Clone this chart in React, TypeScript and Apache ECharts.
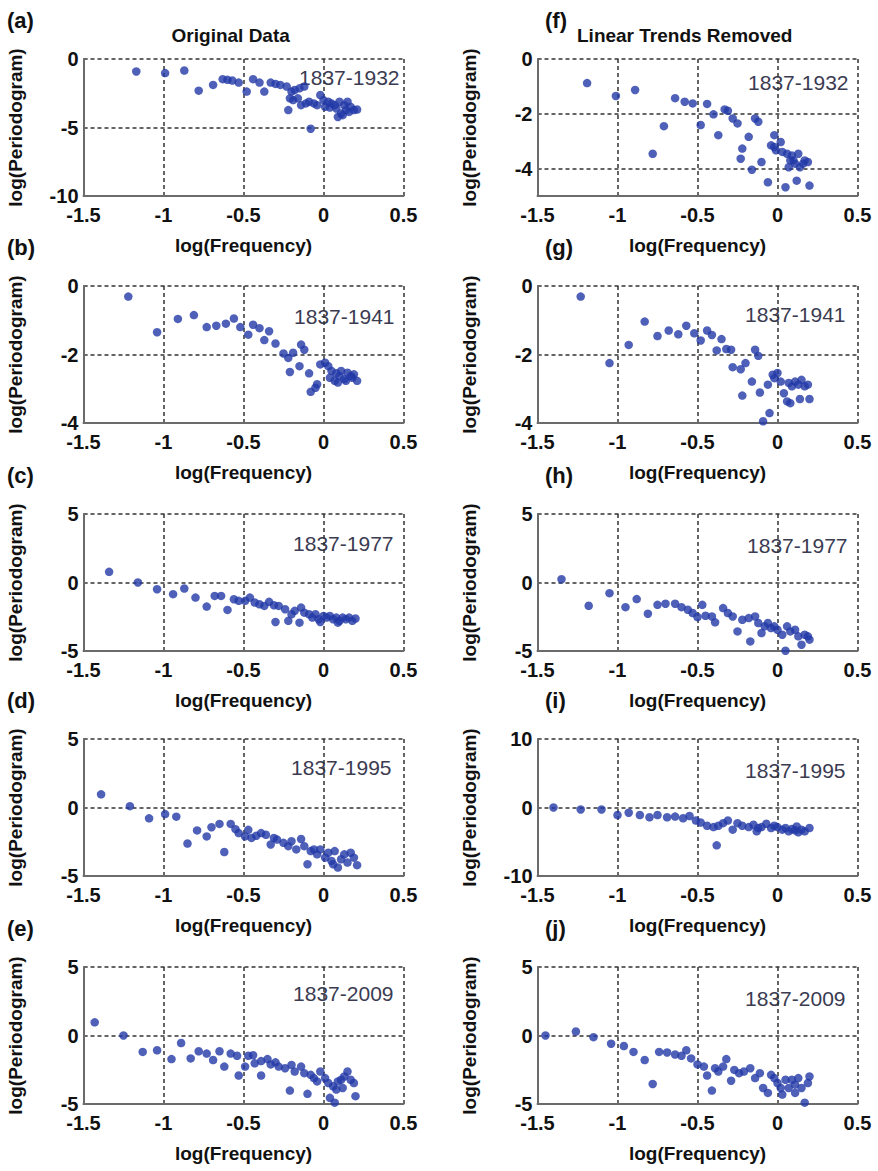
import React, { useEffect, useRef } from "react";
import * as echarts from "echarts";

type Pt = [number, number];

const columnTitles = ["Original Data", "Linear Trends Removed"];
const panelLetters = ["(a)", "(b)", "(c)", "(d)", "(e)", "(f)", "(g)", "(h)", "(i)", "(j)"];
const yearLabels = ["1837-1932", "1837-1941", "1837-1977", "1837-1995", "1837-2009"];
const xTickValues = [-1.5, -1, -0.5, 0, 0.5];
const xAxisTitle = "log(Frequency)";
const yAxisTitle = "log(Periodogram)";

// y-axis ranges per panel (a..j)
const yMins = [-10, -4, -5, -5, -5, -5, -4, -5, -10, -5];
const yMaxs = [0, 0, 5, 5, 5, 0, 0, 5, 10, 5];
const yTicks = [
  [-10, -5, 0],
  [-4, -2, 0],
  [-5, 0, 5],
  [-5, 0, 5],
  [-5, 0, 5],
  [-4, -2, 0],
  [-4, -2, 0],
  [-5, 0, 5],
  [-10, 0, 10],
  [-5, 0, 5],
];

const dataA: Pt[] = [
  [-1.17, -0.91], [-0.99, -1.03], [-0.87, -0.84], [-0.78, -2.31], [-0.69, -1.89], [-0.63, -1.47],
  [-0.6, -1.52], [-0.57, -1.57], [-0.53, -1.72], [-0.48, -2.38], [-0.44, -1.47], [-0.4, -1.72],
  [-0.37, -2.38], [-0.33, -1.72], [-0.3, -1.82], [-0.27, -1.89], [-0.23, -2.01], [-0.2, -2.38],
  [-0.18, -2.26], [-0.15, -2.14], [-0.12, -2.01], [-0.21, -2.87], [-0.22, -3.73], [-0.19, -3.0],
  [-0.16, -2.87], [-0.14, -3.37], [-0.11, -3.24], [-0.09, -3.12], [-0.08, -5.09], [-0.06, -3.24],
  [-0.04, -3.37], [-0.02, -2.63], [0.0, -3.0], [0.01, -3.49], [0.03, -3.12], [0.04, -3.54],
  [0.05, -3.24], [0.07, -3.37], [0.08, -3.61], [0.1, -3.12], [0.11, -3.98], [0.13, -3.37],
  [0.14, -3.73], [0.15, -3.12], [0.17, -3.49], [0.19, -3.73], [0.21, -3.69], [0.16, -3.86],
  [0.12, -4.1], [0.09, -4.23],
];

const dataB: Pt[] = [
  [-1.22, -0.31], [-1.04, -1.35], [-0.91, -0.96], [-0.81, -0.85], [-0.73, -1.2], [-0.67, -1.16],
  [-0.61, -1.1], [-0.56, -0.95], [-0.52, -1.2], [-0.47, -1.42], [-0.44, -1.13], [-0.4, -1.23],
  [-0.37, -1.58], [-0.34, -1.32], [-0.3, -1.68], [-0.25, -1.97], [-0.22, -2.1], [-0.21, -2.51],
  [-0.19, -1.95], [-0.15, -2.34], [-0.14, -1.71], [-0.12, -1.86], [-0.09, -2.55], [-0.08, -3.09],
  [-0.05, -2.97], [-0.04, -2.87], [-0.02, -2.29], [0.01, -2.24], [0.03, -2.34], [0.05, -2.48],
  [0.07, -2.77], [0.08, -2.55], [0.1, -2.63], [0.11, -2.48], [0.13, -2.72], [0.15, -2.53],
  [0.17, -2.63], [0.19, -2.58], [0.21, -2.77], [0.04, -2.68], [0.09, -2.82], [0.14, -2.77],
  [0.18, -2.68],
];

const dataC: Pt[] = [
  [-1.34, 0.78], [-1.16, 0.0], [-1.04, -0.49], [-0.94, -0.85], [-0.87, -0.44], [-0.8, -1.1],
  [-0.73, -1.76], [-0.68, -0.98], [-0.64, -0.98], [-0.6, -2.0], [-0.56, -1.22], [-0.53, -1.34],
  [-0.49, -1.34], [-0.46, -1.1], [-0.43, -1.46], [-0.4, -1.59], [-0.37, -1.71], [-0.34, -1.41],
  [-0.31, -1.66], [-0.3, -2.88], [-0.28, -1.71], [-0.24, -1.95], [-0.22, -2.8], [-0.2, -2.32],
  [-0.18, -2.07], [-0.15, -2.93], [-0.14, -1.83], [-0.12, -2.2], [-0.09, -2.32], [-0.07, -2.56],
  [-0.05, -2.32], [-0.03, -2.68], [0.0, -2.44], [0.02, -2.56], [0.04, -2.44], [0.06, -2.68],
  [0.08, -2.56], [0.1, -2.8], [0.12, -2.56], [0.14, -2.68], [0.16, -2.56], [0.18, -2.8],
  [0.2, -2.63], [-0.02, -2.88], [0.09, -2.93],
];

const dataD: Pt[] = [
  [-1.39, 0.96], [-1.21, 0.1], [-1.09, -0.79], [-0.99, -0.48], [-0.92, -0.67], [-0.85, -2.63],
  [-0.79, -1.67], [-0.73, -2.11], [-0.7, -1.44], [-0.65, -1.2], [-0.62, -3.25], [-0.58, -1.2],
  [-0.55, -1.58], [-0.53, -1.87], [-0.49, -2.11], [-0.47, -1.63], [-0.45, -2.22], [-0.42, -2.06],
  [-0.39, -1.87], [-0.36, -1.99], [-0.33, -2.7], [-0.31, -2.22], [-0.29, -2.34], [-0.25, -2.58],
  [-0.22, -2.82], [-0.2, -2.46], [-0.17, -3.06], [-0.14, -2.3], [-0.12, -2.82], [-0.1, -4.14],
  [-0.08, -3.18], [-0.06, -3.06], [-0.04, -3.42], [-0.02, -3.06], [0.01, -3.66], [0.03, -3.3],
  [0.05, -3.9], [0.07, -3.18], [0.09, -4.38], [0.11, -3.78], [0.13, -3.42], [0.15, -4.02],
  [0.17, -3.3], [0.19, -3.66], [0.21, -4.21], [0.06, -4.14],
];

const dataE: Pt[] = [
  [-1.43, 0.96], [-1.25, 0.0], [-1.13, -1.2], [-1.04, -1.08], [-0.95, -1.72], [-0.89, -0.55],
  [-0.83, -1.67], [-0.78, -1.15], [-0.73, -1.32], [-0.69, -1.79], [-0.65, -1.15], [-0.62, -2.27],
  [-0.58, -1.32], [-0.54, -1.48], [-0.53, -2.92], [-0.49, -2.27], [-0.47, -1.48], [-0.44, -1.44],
  [-0.43, -2.03], [-0.39, -2.92], [-0.39, -1.87], [-0.35, -1.72], [-0.33, -2.11], [-0.3, -1.96],
  [-0.28, -2.27], [-0.24, -2.39], [-0.21, -4.02], [-0.2, -2.15], [-0.18, -2.63], [-0.14, -2.27],
  [-0.12, -2.75], [-0.1, -4.26], [-0.08, -2.87], [-0.06, -3.11], [-0.04, -3.35], [-0.02, -2.63],
  [0.01, -3.11], [0.03, -3.47], [0.04, -4.55], [0.06, -3.71], [0.07, -4.9], [0.09, -3.35],
  [0.11, -3.23], [0.13, -2.99], [0.15, -2.63], [0.17, -3.23], [0.19, -3.47], [0.2, -4.43],
  [0.12, -3.83], [0.08, -3.95],
];

const dataF: Pt[] = [
  [-1.19, -0.88], [-1.01, -1.35], [-0.89, -1.13], [-0.78, -3.46], [-0.71, -2.45], [-0.64, -1.43],
  [-0.58, -1.56], [-0.53, -1.62], [-0.48, -2.41], [-0.44, -1.64], [-0.4, -2.02], [-0.37, -2.78],
  [-0.33, -1.84], [-0.31, -1.89], [-0.28, -2.17], [-0.25, -2.35], [-0.22, -3.27], [-0.23, -3.64],
  [-0.18, -2.84], [-0.16, -4.04], [-0.14, -2.17], [-0.12, -2.29], [-0.1, -3.76], [-0.06, -4.5],
  [-0.04, -3.15], [-0.02, -2.78], [-0.01, -3.33], [0.02, -3.03], [0.03, -3.39], [0.05, -4.68],
  [0.06, -3.46], [0.07, -3.95], [0.09, -3.52], [0.1, -3.7], [0.12, -4.44], [0.13, -3.46],
  [0.14, -3.95], [0.16, -3.82], [0.17, -3.7], [0.19, -3.76], [0.2, -4.62], [0.11, -3.82],
  [0.08, -3.7], [-0.02, -3.21],
];

const dataG: Pt[] = [
  [-1.23, -0.31], [-1.05, -2.25], [-0.93, -1.72], [-0.83, -1.04], [-0.75, -1.46], [-0.68, -1.3],
  [-0.62, -1.41], [-0.57, -1.16], [-0.52, -1.38], [-0.48, -1.59], [-0.44, -1.3], [-0.41, -1.43],
  [-0.38, -1.88], [-0.35, -1.55], [-0.32, -1.84], [-0.29, -1.86], [-0.28, -2.37], [-0.23, -2.43],
  [-0.22, -3.2], [-0.2, -2.25], [-0.16, -2.79], [-0.14, -1.86], [-0.12, -2.04], [-0.11, -3.11],
  [-0.09, -3.95], [-0.06, -2.88], [-0.05, -3.71], [-0.03, -2.59], [-0.02, -2.69], [0.0, -2.54],
  [0.02, -2.79], [0.04, -3.13], [0.06, -3.37], [0.07, -2.83], [0.09, -2.93], [0.11, -2.79],
  [0.13, -2.88], [0.15, -2.74], [0.17, -2.93], [0.19, -2.88], [0.2, -3.3], [0.14, -3.3],
  [0.08, -3.42],
];

const dataH: Pt[] = [
  [-1.35, 0.24], [-1.18, -1.7], [-1.05, -0.78], [-0.95, -1.8], [-0.88, -1.21], [-0.81, -2.28],
  [-0.75, -1.63], [-0.7, -1.55], [-0.64, -1.55], [-0.6, -1.8], [-0.56, -1.99], [-0.53, -2.23],
  [-0.5, -2.52], [-0.47, -1.63], [-0.45, -2.43], [-0.41, -2.48], [-0.39, -2.91], [-0.34, -1.87],
  [-0.31, -2.23], [-0.28, -2.48], [-0.25, -3.57], [-0.22, -2.72], [-0.17, -4.3], [-0.18, -2.6],
  [-0.14, -2.48], [-0.12, -2.96], [-0.1, -3.69], [-0.08, -3.2], [-0.06, -2.96], [-0.04, -3.33],
  [-0.02, -3.2], [0.0, -3.45], [0.03, -3.81], [0.05, -4.98], [0.06, -3.2], [0.08, -3.57],
  [0.11, -3.45], [0.13, -3.93], [0.15, -4.54], [0.17, -3.81], [0.19, -3.93], [0.2, -4.17],
];

const dataI: Pt[] = [
  [-1.4, 0.0], [-1.23, -0.29], [-1.1, -0.29], [-1.0, -1.1], [-0.93, -0.76], [-0.86, -1.1],
  [-0.8, -1.43], [-0.75, -1.1], [-0.69, -1.43], [-0.64, -1.33], [-0.59, -1.57], [-0.55, -1.24],
  [-0.51, -1.9], [-0.48, -2.19], [-0.44, -2.67], [-0.4, -2.86], [-0.37, -2.67], [-0.38, -5.52],
  [-0.34, -2.29], [-0.31, -1.9], [-0.28, -3.24], [-0.25, -2.29], [-0.22, -2.67], [-0.18, -2.86],
  [-0.15, -2.52], [-0.13, -3.48], [-0.1, -2.86], [-0.07, -2.38], [-0.04, -3.0], [-0.02, -2.67],
  [0.0, -2.86], [0.03, -3.24], [0.05, -3.0], [0.07, -3.48], [0.09, -3.14], [0.11, -3.33],
  [0.13, -3.62], [0.15, -3.24], [0.17, -3.48], [0.2, -3.0], [-0.12, -3.0], [0.12, -2.76],
];

const dataJ: Pt[] = [
  [-1.45, 0.0], [-1.26, 0.29], [-1.15, -0.12], [-1.04, -0.6], [-0.96, -0.77], [-0.9, -1.2],
  [-0.83, -1.79], [-0.78, -3.54], [-0.74, -1.2], [-0.69, -1.24], [-0.64, -1.39], [-0.6, -1.48],
  [-0.57, -1.08], [-0.54, -1.67], [-0.5, -2.11], [-0.46, -2.27], [-0.44, -2.92], [-0.41, -4.02],
  [-0.39, -2.39], [-0.37, -2.63], [-0.32, -1.72], [-0.34, -2.27], [-0.29, -3.3], [-0.27, -2.51],
  [-0.24, -2.75], [-0.21, -2.63], [-0.17, -2.39], [-0.14, -3.11], [-0.11, -2.75], [-0.09, -3.83],
  [-0.06, -4.19], [-0.04, -2.87], [-0.02, -3.11], [0.0, -3.47], [0.03, -4.31], [0.05, -3.23],
  [0.07, -3.83], [0.09, -3.23], [0.11, -3.59], [0.13, -3.11], [0.15, -3.83], [0.17, -4.9],
  [0.19, -3.47], [0.2, -2.99], [0.02, -3.83], [0.11, -4.19],
];

const panelData = [dataA, dataB, dataC, dataD, dataE, dataF, dataG, dataH, dataI, dataJ];

// layout (pixels)
const COL_LEFT = [83.5, 537.5];
const ROW_TOP = [59, 286, 514, 739, 967];
const PLOT_W = 320;
const PLOT_H = 137;
const YEAR_DY = [18, 30, 29, 28, 26, 23, 28, 31, 31, 31];
const YEAR_DX = [4, 9, 10, 12, 10, 9, 12, 10, 12, 12];

const FONT = "'Liberation Sans', Arial, Helvetica, sans-serif";
const DOT = "#2238a6";
const INK = "#111111";
const AXIS_GRAY = "#6b6b6b";
const GRID_INK = "#333333";

function fmt(v: number): string {
  return String(Math.round(v * 100) / 100);
}

export default function App() {
  const ref = useRef<HTMLDivElement | null>(null);

  useEffect(() => {
    document.body.style.margin = "0";
    if (!ref.current) return;
    const chart = echarts.init(ref.current, undefined, { renderer: "svg" });

    const idx = panelData.map((_, i) => i);
    const col = (i: number) => (i < 5 ? 0 : 1);
    const row = (i: number) => i % 5;

    const grids = idx.map((i) => ({
      left: COL_LEFT[col(i)],
      top: ROW_TOP[row(i)],
      width: PLOT_W,
      height: PLOT_H,
      containLabel: false,
    }));

    const splitStyle = { show: true, lineStyle: { color: GRID_INK, type: [4, 3], width: 1.5 } };

    const xAxes = idx.map((i) => ({
      type: "value",
      gridIndex: i,
      min: xTickValues[0],
      max: xTickValues[xTickValues.length - 1],
      interval: 0.5,
      name: xAxisTitle,
      nameLocation: "middle",
      nameGap: 40,
      nameTextStyle: { fontSize: 19, fontWeight: "bold", fontFamily: FONT, color: INK },
      axisLine: { show: true, onZero: false, lineStyle: { color: AXIS_GRAY, width: 2 } },
      axisTick: { show: true, inside: true, length: 4, lineStyle: { color: AXIS_GRAY, width: 1.5 } },
      axisLabel: { margin: 9, fontSize: 20, fontWeight: "bold", color: INK, fontFamily: FONT, formatter: fmt },
      splitLine: splitStyle,
    }));

    const yAxes = idx.map((i) => {
      const ticks = yTicks[i];
      const step = ticks[1] - ticks[0];
      const regular = ticks[0] === yMins[i] && ticks[ticks.length - 1] === yMaxs[i];
      const base: any = {
        type: "value",
        gridIndex: i,
        min: yMins[i],
        max: yMaxs[i],
        name: yAxisTitle,
        nameLocation: "middle",
        nameGap: 59,
        nameRotate: 90,
        nameTextStyle: { fontSize: 19, fontWeight: "bold", fontFamily: FONT, color: INK },
        axisLine: { show: true, onZero: false, lineStyle: { color: AXIS_GRAY, width: 2 } },
        axisTick: { show: true, inside: true, length: 4, lineStyle: { color: AXIS_GRAY, width: 1.5 } },
        axisLabel: { margin: 5, fontSize: 20, fontWeight: "bold", color: INK, fontFamily: FONT, formatter: fmt },
        splitLine: splitStyle,
      };
      if (regular) {
        base.interval = step;
      } else {
        base.axisLabel.customValues = ticks;
        base.axisTick.customValues = ticks;
      }
      return base;
    });

    const series = idx.map((i) => ({
      type: "scatter",
      xAxisIndex: i,
      yAxisIndex: i,
      data: panelData[i],
      symbol: "circle",
      symbolSize: 8.5,
      itemStyle: { color: DOT },
      silent: true,
      clip: false,
    }));

    const graphics: any[] = [];
    columnTitles.forEach((t, c) => {
      graphics.push({
        type: "text",
        x: COL_LEFT[c] + PLOT_W * 0.46,
        y: 35,
        style: {
          text: t,
          fontSize: 19,
          fontWeight: "bold",
          fontFamily: FONT,
          fill: INK,
          align: "center",
          verticalAlign: "middle",
          textAlign: "center",
          textVerticalAlign: "middle",
        },
      });
    });
    idx.forEach((i) => {
      const c = col(i);
      const r = row(i);
      graphics.push({
        type: "text",
        x: c === 0 ? 7 : 545,
        y: ROW_TOP[r] - 39,
        style: {
          text: panelLetters[i],
          fontSize: 22,
          fontWeight: "bold",
          fontFamily: FONT,
          fill: INK,
          align: "left",
          verticalAlign: "middle",
          textAlign: "left",
          textVerticalAlign: "middle",
        },
      });
      graphics.push({
        type: "text",
        x: COL_LEFT[c] + PLOT_W - YEAR_DX[i],
        y: ROW_TOP[r] + YEAR_DY[i],
        style: {
          text: yearLabels[r],
          fontSize: 21,
          fontFamily: FONT,
          fill: "#3b3b52",
          align: "right",
          verticalAlign: "middle",
          textAlign: "right",
          textVerticalAlign: "middle",
        },
      });
    });

    chart.setOption({
      animation: false,
      backgroundColor: "#ffffff",
      grid: grids,
      xAxis: xAxes,
      yAxis: yAxes,
      series,
      graphic: { elements: graphics },
    });

    return () => {
      chart.dispose();
    };
  }, []);

  return <div ref={ref} style={{ width: 878, height: 1171 }} />;
}
